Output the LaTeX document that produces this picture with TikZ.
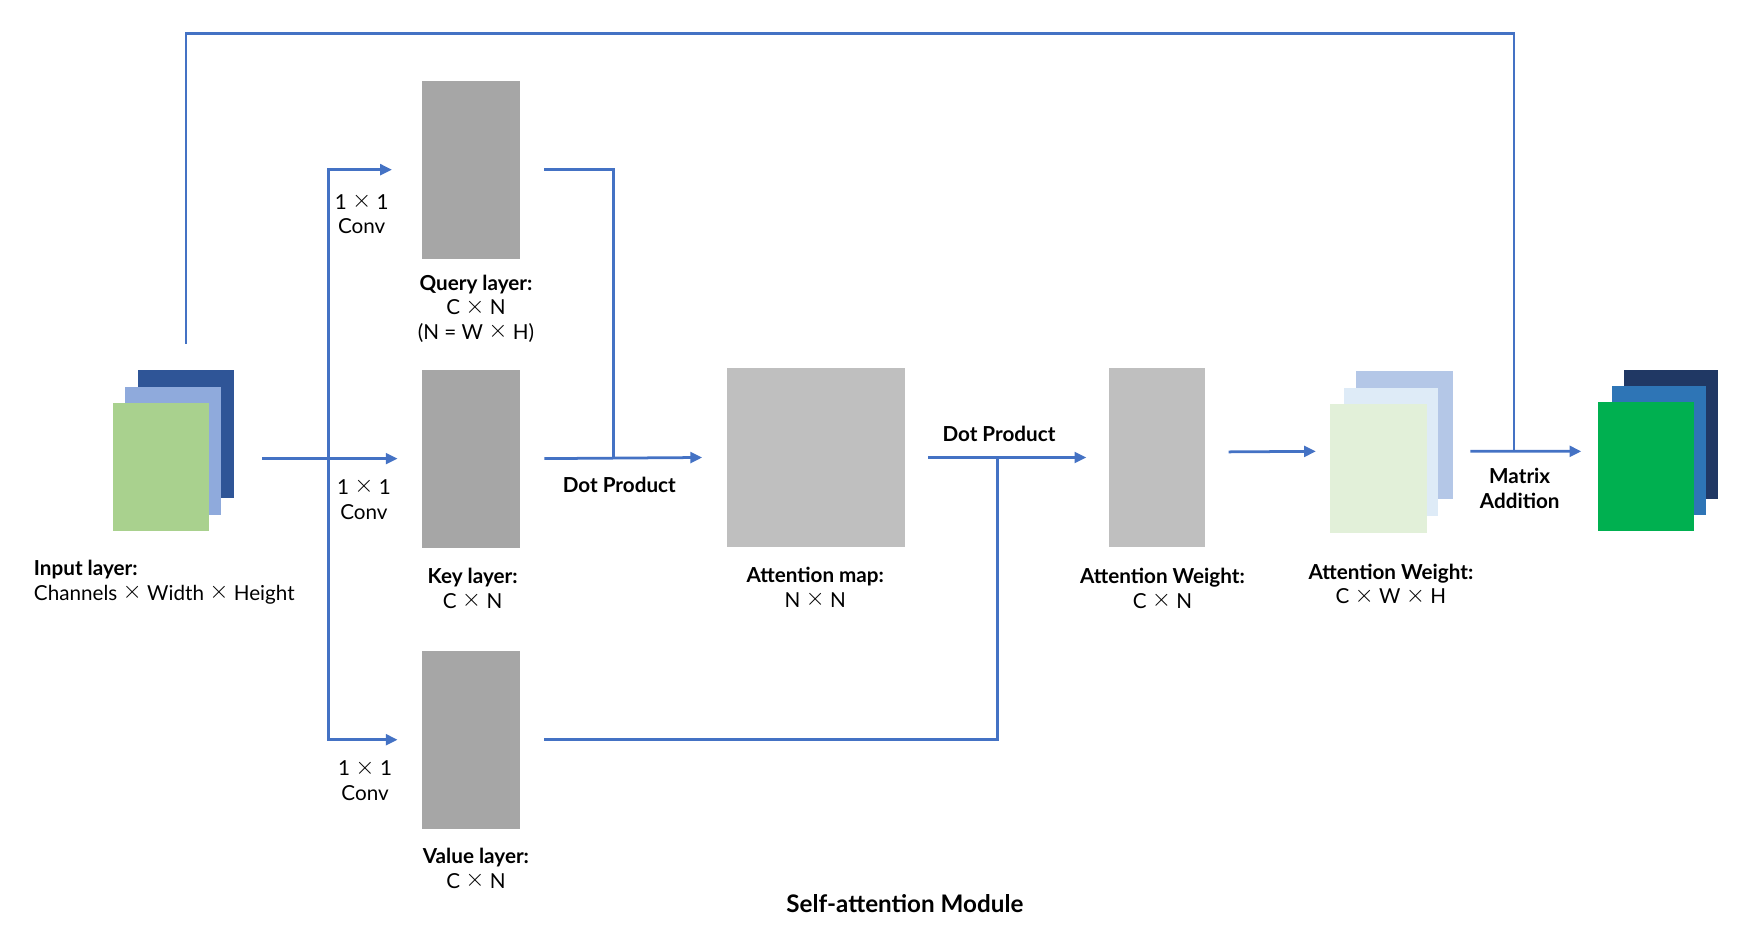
\documentclass[tikz,border=0pt]{standalone}
\usepackage{fontspec}
\setmainfont{Lato}
\usetikzlibrary{arrows.meta,calc}

\definecolor{linkblue}{HTML}{4472C4}
\definecolor{grayQ}{HTML}{A6A6A6}
\definecolor{grayA}{HTML}{BFBFBF}
\definecolor{inDark}{HTML}{2F5597}
\definecolor{inMid}{HTML}{8FAADC}
\definecolor{inFront}{HTML}{A9D18E}
\definecolor{wBack}{HTML}{B4C7E7}
\definecolor{wMid}{HTML}{DEEBF7}
\definecolor{wFront}{HTML}{E2F0D9}
\definecolor{outBack}{HTML}{203864}
\definecolor{outMid}{HTML}{2E75B6}
\definecolor{outFront}{HTML}{00B050}

% a thin, wide multiplication sign
\newcommand{\by}{\raisebox{0.08em}{\scalebox{1.15}{$\times$}}}

\tikzset{
	flow/.style={linkblue, line width=1.4pt},
	arr/.style={flow, -{Triangle[length=6pt,width=5.5pt]}},
	sheet/.style={inner sep=0, outer sep=0, minimum width=1.72cm, minimum height=2.3cm},
	tall/.style={inner sep=0, outer sep=0, minimum width=1.74cm, minimum height=3.18cm},
	lbl/.style={align=center, inner sep=0, font=\fontsize{10.5}{12.5}\selectfont}
}

\begin{document}
\begin{tikzpicture}[x=0.02cm, y=-0.02cm]
	\useasboundingbox (0,0) rectangle (1568,839);
	% input stack
	\node[sheet, fill=inDark] (inback) at (166,387.5) {};
	\node[sheet, fill=inMid] (inmid) at (154.5,402.75) {};
	\node[sheet, fill=inFront] (infront) at (144,417) {};
	\node[lbl, anchor=west, align=left] (inlabel) at (30,520) {\textbf{Input layer:}\\Channels \by{} Width \by{} Height};
	% query, key, value
	\node[tall, fill=grayQ] (query) at (420.5,151.5) {};
	\node[tall, fill=grayQ] (key) at (420.5,409.5) {};
	\node[tall, fill=grayQ] (value) at (420.5,660.5) {};
	\node[lbl] (qlabel) at (425,275.5) {\textbf{Query layer:}\\C \by{} N\\(N = W \by{} H)};
	\node[lbl] (klabel) at (422,525.5) {\textbf{Key layer:}\\C \by{} N};
	\node[lbl] (vlabel) at (425,775.5) {\textbf{Value layer:}\\C \by{} N};
	\node[lbl] (qconv) at (323,190.5) {1 \by{} 1\\Conv};
	\node[lbl] (kconv) at (325,445.5) {1 \by{} 1\\Conv};
	\node[lbl] (vconv) at (326,696.5) {1 \by{} 1\\Conv};
	% attention map and weights
	\node[tall, fill=grayA, minimum width=3.18cm] (amap) at (728.5,408.5) {};
	\node[lbl] (mlabel) at (728,524.5) {\textbf{Attention map:}\\N \by{} N};
	\node[tall, fill=grayA, minimum width=1.72cm] (aweight) at (1033,408.5) {};
	\node[lbl] (w1label) at (1038,525.5) {\textbf{Attention Weight:}\\C \by{} N};
	\node[sheet, fill=wBack] (wback) at (1254,388.5) {};
	\node[sheet, fill=wMid, minimum width=1.68cm] (wmid) at (1242,403.5) {};
	\node[sheet, fill=wFront] (wfront) at (1231,418) {};
	\node[lbl] (w2label) at (1242,521.5) {\textbf{Attention Weight:}\\C \by{} W \by{} H};
	% output stack
	\node[sheet, fill=outBack, minimum width=1.68cm] (outback) at (1492,388) {};
	\node[sheet, fill=outMid, minimum width=1.68cm] (outmid) at (1481,402.5) {};
	\node[sheet, fill=outFront] (outfront) at (1470,416.5) {};
	\node[lbl] (dot1) at (553,433) {\textbf{Dot Product}};
	\node[lbl] (dot2) at (892,387) {\textbf{Dot Product}};
	\node[lbl] (addlabel) at (1357,436) {\textbf{Matrix}\\\textbf{Addition}};
	\node[lbl, font=\fontsize{12.3}{14}\selectfont] (title) at (808,807) {\textbf{Self-attention Module}};
	% joints
	\coordinate (split) at ($(inback.east |- key.west)+(84,0)$);
	\coordinate (qkjoin) at ($(key.east)+(84,0)$);
	\coordinate (vjoin) at ($(amap.east)+(83,0)$);
	\coordinate (addjoin) at ($(wback.east)+(55,14.5)$);
	\coordinate (skipturn) at (addjoin |- 0,30);
	% connectors
	\draw[arr] ($(inback.east |- key.west)+(25,0)$) -- ([xshift=-0.44cm]key.west);
	\draw[arr] (split) |- ([xshift=-0.54cm]query.west);
	\draw[arr] (split) |- ([xshift=-0.44cm]value.west);
	\draw[flow] ([xshift=0.44cm]query.east) -| (qkjoin);
	\draw[arr] ([xshift=0.44cm]key.east) -- ([xshift=-0.44cm]amap.west);
	\draw[arr] ([xshift=0.42cm]amap.east) -- ([xshift=-0.4cm]aweight.west);
	\draw[flow] ([xshift=0.44cm]value.east) -| (vjoin);
	\draw[arr] ($(aweight.east)+(21,-5)$) -- ($(wfront.west)+(-13,-15)$);
	\draw[arr] ($(wback.east)+(16,14.5)$) -- ($(outfront.west)+(-15,-13.5)$);
	\draw[flow] ([yshift=0.46cm]inback.north) |- (skipturn) -- (addjoin);
\end{tikzpicture}
\end{document}
